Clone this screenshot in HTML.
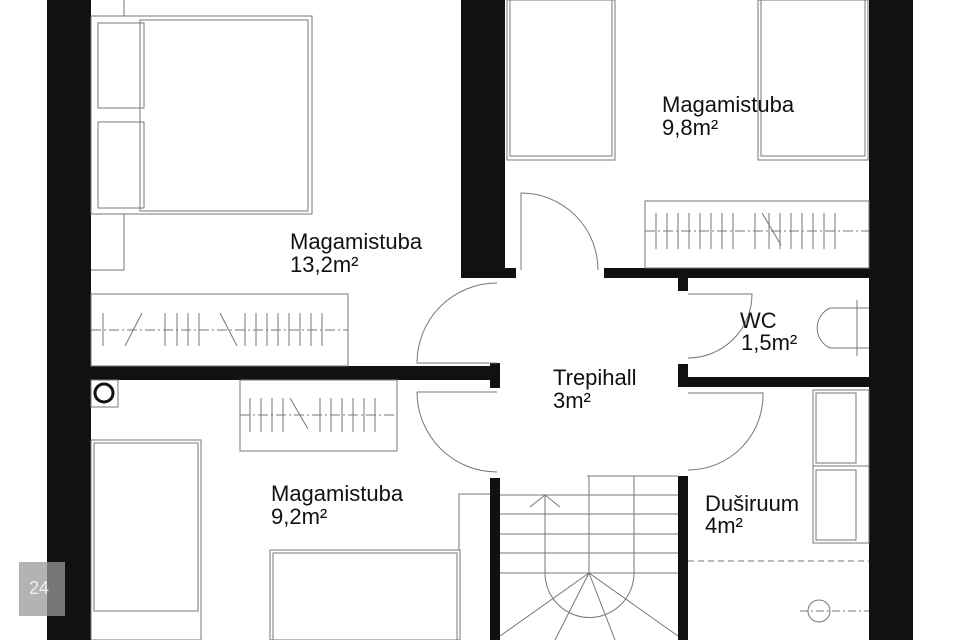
<!DOCTYPE html>
<html><head><meta charset="utf-8"><style>
html,body{margin:0;padding:0;background:#fff;}
svg{display:block;}
text{font-family:"Liberation Sans",sans-serif;font-size:22px;fill:#111;}
</style></head><body>
<svg width="960" height="640" viewBox="0 0 960 640" xmlns="http://www.w3.org/2000/svg">
<g fill="#111">
<rect x="47" y="0" width="44" height="640"/>
<rect x="869" y="0" width="44" height="640"/>
<rect x="461" y="0" width="44" height="278"/>
<rect x="505" y="268" width="11" height="10"/>
<rect x="604" y="268" width="265" height="10"/>
<rect x="678" y="278" width="10" height="13"/>
<rect x="678" y="377" width="191" height="10"/>
<rect x="678" y="364" width="10" height="23"/>
<rect x="91" y="366" width="409" height="14"/>
<rect x="490" y="363" width="10" height="25"/>
<rect x="490" y="478" width="10" height="162"/>
<rect x="678" y="476" width="10" height="164"/>
</g>
<g fill="none" stroke="#777" stroke-width="1">
<line x1="124" y1="0" x2="124" y2="16"/>
<rect x="91" y="16" width="221" height="198"/>
<rect x="140" y="20" width="168" height="191"/>
<rect x="98" y="23" width="46" height="85"/>
<rect x="98" y="122" width="46" height="86"/>
<polyline points="91,270 124,270 124,214"/>
<rect x="91" y="294" width="257" height="72"/>
<line x1="91" y1="330" x2="348" y2="330" stroke-dasharray="10,3,2,3"/>
<rect x="507" y="0" width="108" height="160"/>
<rect x="510" y="0" width="102" height="156"/>
<rect x="758" y="0" width="110" height="160"/>
<rect x="761" y="0" width="104" height="156"/>
<rect x="645" y="201" width="224" height="67"/>
<line x1="645" y1="231" x2="869" y2="231" stroke-dasharray="10,3,2,3"/>
<path d="M521,270 L521,193 A77,77 0 0 1 598,270"/>
<path d="M497,283 A80,80 0 0 0 417,363 L497,363"/>
<path d="M417,392 A80,80 0 0 0 497,472"/>
<line x1="417" y1="392" x2="497" y2="392"/>
<path d="M688,294 L752,294 A64,64 0 0 1 688,358"/>
<path d="M688,393 L763,393 A75,75 0 0 1 688,470"/>
<path d="M869,308 L830,308 A22,22 0 0 0 830,348 L869,348"/>
<line x1="857" y1="300" x2="857" y2="356"/>
<rect x="91" y="380" width="27" height="27"/>
<rect x="240" y="380" width="157" height="71"/>
<line x1="240" y1="415" x2="397" y2="415" stroke-dasharray="10,3,2,3"/>
<rect x="91" y="440" width="110" height="200"/>
<rect x="94" y="443" width="104" height="168"/>
<rect x="270" y="550" width="190" height="90"/>
<rect x="273" y="553" width="184" height="87"/>
<polyline points="459,550 459,494 490,494"/>
<rect x="813" y="390" width="56" height="76"/>
<rect x="816" y="393" width="40" height="70"/>
<rect x="813" y="466" width="56" height="77"/>
<rect x="816" y="470" width="40" height="70"/>
<line x1="688" y1="561" x2="869" y2="561" stroke-dasharray="6,4"/>
<circle cx="819" cy="611" r="11"/>
<line x1="800" y1="611" x2="869" y2="611" stroke-dasharray="8,3,2,3"/>
<line x1="587" y1="476" x2="678" y2="476"/>
<line x1="500" y1="495" x2="678" y2="495"/>
<line x1="500" y1="514" x2="678" y2="514"/>
<line x1="500" y1="534" x2="678" y2="534"/>
<line x1="500" y1="553" x2="678" y2="553"/>
<line x1="500" y1="573" x2="678" y2="573"/>
<line x1="589" y1="476" x2="589" y2="573"/>
<line x1="634" y1="476" x2="634" y2="573"/>
<path d="M545,495 L545,573 A44,44 0 0 0 634,573"/>
<path d="M530,507 L545,495 L560,507"/>
<line x1="589" y1="573" x2="500" y2="636"/>
<line x1="589" y1="573" x2="555" y2="640"/>
<line x1="589" y1="573" x2="615" y2="640"/>
<line x1="589" y1="573" x2="678" y2="636"/>
</g>
<g stroke="#777" stroke-width="1">
<line x1="103" y1="313" x2="103" y2="346"/><line x1="165" y1="313" x2="165" y2="346"/><line x1="177" y1="313" x2="177" y2="346"/><line x1="188" y1="313" x2="188" y2="346"/><line x1="199" y1="313" x2="199" y2="346"/><line x1="245" y1="313" x2="245" y2="346"/><line x1="256" y1="313" x2="256" y2="346"/><line x1="267" y1="313" x2="267" y2="346"/><line x1="278" y1="313" x2="278" y2="346"/><line x1="289" y1="313" x2="289" y2="346"/><line x1="300" y1="313" x2="300" y2="346"/><line x1="311" y1="313" x2="311" y2="346"/><line x1="322" y1="313" x2="322" y2="346"/>
<line x1="125" y1="346" x2="142" y2="313"/><line x1="220" y1="313" x2="237" y2="346"/>
<line x1="656" y1="213" x2="656" y2="249"/><line x1="667" y1="213" x2="667" y2="249"/><line x1="678" y1="213" x2="678" y2="249"/><line x1="689" y1="213" x2="689" y2="249"/><line x1="700" y1="213" x2="700" y2="249"/><line x1="711" y1="213" x2="711" y2="249"/><line x1="722" y1="213" x2="722" y2="249"/><line x1="733" y1="213" x2="733" y2="249"/><line x1="755" y1="213" x2="755" y2="249"/><line x1="769" y1="213" x2="769" y2="249"/><line x1="780" y1="213" x2="780" y2="249"/><line x1="791" y1="213" x2="791" y2="249"/><line x1="802" y1="213" x2="802" y2="249"/><line x1="813" y1="213" x2="813" y2="249"/><line x1="824" y1="213" x2="824" y2="249"/><line x1="835" y1="213" x2="835" y2="249"/><line x1="762" y1="213" x2="781" y2="245"/>
<line x1="250" y1="398" x2="250" y2="432"/><line x1="261" y1="398" x2="261" y2="432"/><line x1="272" y1="398" x2="272" y2="432"/><line x1="283" y1="398" x2="283" y2="432"/><line x1="320" y1="398" x2="320" y2="432"/><line x1="331" y1="398" x2="331" y2="432"/><line x1="342" y1="398" x2="342" y2="432"/><line x1="353" y1="398" x2="353" y2="432"/><line x1="364" y1="398" x2="364" y2="432"/><line x1="375" y1="398" x2="375" y2="432"/><line x1="290" y1="398" x2="308" y2="429"/>
</g>
<circle cx="104" cy="393" r="9" fill="none" stroke="#111" stroke-width="3"/>
<rect x="19" y="562" width="46" height="54" fill="#999" opacity="0.75"/>
<text x="29" y="594" style="fill:#eee;font-size:18px">24</text>
<text x="290" y="249">Magamistuba</text>
<text x="290" y="272">13,2m²</text>
<text x="662" y="112">Magamistuba</text>
<text x="662" y="135">9,8m²</text>
<text x="740" y="328">WC</text>
<text x="741" y="350">1,5m²</text>
<text x="553" y="385">Trepihall</text>
<text x="553" y="408">3m²</text>
<text x="271" y="501">Magamistuba</text>
<text x="271" y="524">9,2m²</text>
<text x="705" y="511">Duširuum</text>
<text x="705" y="533">4m²</text>
</svg>
</body></html>
